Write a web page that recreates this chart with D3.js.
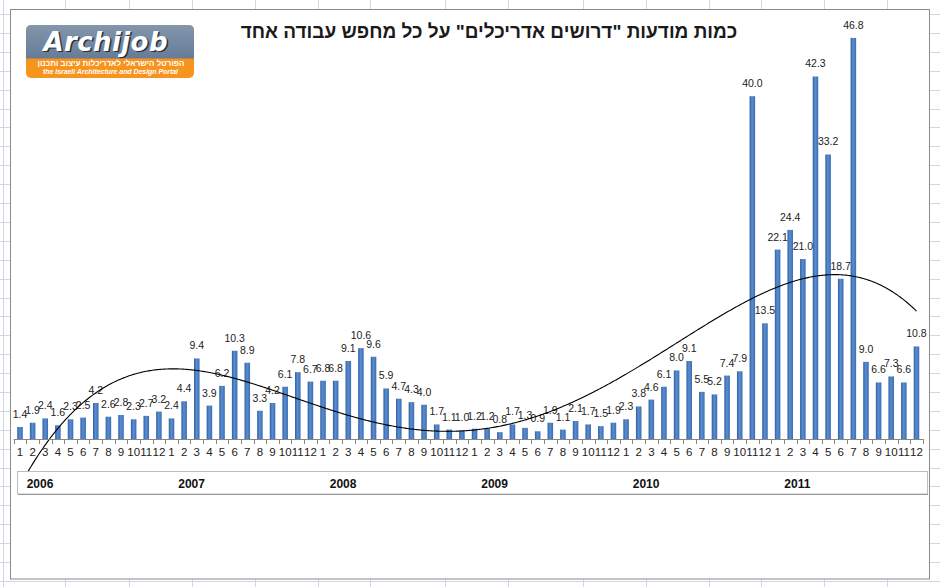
<!DOCTYPE html>
<html><head><meta charset="utf-8">
<script src="https://cdn.jsdelivr.net/npm/d3@7"></script>
<style>
html,body{margin:0;padding:0;background:#fff;}
svg{display:block;font-family:"Liberation Sans",Arial,sans-serif;}
</style></head>
<body><svg id="c" width="940" height="587"></svg>
<script>
// ---- data ----
const years = ["2006","2007","2008","2009","2010","2011"];
const monthLabels = ["1","2","3","4","5","6","7","8","9","10","11","12"];
const values2006 = [1.4,1.9,2.4,1.6,2.3,2.5,4.2,2.6,2.8,2.3,2.7,3.2];
const values2007 = [2.4,4.4,9.4,3.9,6.2,10.3,8.9,3.3,4.2,6.1,7.8,6.7];
const values2008 = [6.8,6.8,9.1,10.6,9.6,5.9,4.7,4.3,4.0,1.7,1.1,1.0];
const values2009 = [1.2,1.2,0.8,1.7,1.3,0.9,1.9,1.1,2.1,1.7,1.5,1.9];
const values2010 = [2.3,3.8,4.6,6.1,8.0,9.1,5.5,5.2,7.4,7.9,40.0,13.5];
const values2011 = [22.1,24.4,21.0,42.3,33.2,18.7,46.8,9.0,6.6,7.3,6.6,10.8];
const titleText = 'כמות מודעות "דרושים אדריכלים" על כל מחפש עבודה אחד';
const trendOrder = 4;

const seriesByYear = [values2006,values2007,values2008,values2009,values2010,values2011];
const data = [];
seriesByYear.forEach((arr,yi)=>arr.forEach((v,mi)=>data.push({i:data.length,year:years[yi],month:monthLabels[mi],value:v})));

const svg = d3.select("#c");
const W=940,H=587;

// spreadsheet grid background
const colLines=[3,65,129,192,255,318,370,445,508,583,646,709,761,824,887];
const g0=svg.append("g");
g0.selectAll("line.r").data(d3.range(14,H,18.9)).join("line")
  .attr("x1",0).attr("x2",W).attr("y1",d=>Math.round(d)+0.5).attr("y2",d=>Math.round(d)+0.5)
  .attr("stroke","#d0d7e5");
g0.selectAll("line.c").data(colLines).join("line")
  .attr("y1",0).attr("y2",H).attr("x1",d=>d+0.5).attr("x2",d=>d+0.5)
  .attr("stroke","#d0d7e5");

// chart area
svg.append("rect").attr("x",10.5).attr("y",9.5).attr("width",919).attr("height",569.5)
  .attr("fill","#fff").attr("stroke","#8a8a8a");

// defs
const defs=svg.append("defs");
const grad=defs.append("linearGradient").attr("id","bar").attr("x1","0").attr("x2","1").attr("y1","0").attr("y2","0");
grad.append("stop").attr("offset","0%").attr("stop-color","#2f5f9f");
grad.append("stop").attr("offset","45%").attr("stop-color","#5a8ed2");
grad.append("stop").attr("offset","100%").attr("stop-color","#3b6db0");
const lg=defs.append("linearGradient").attr("id","logo").attr("x1","0").attr("x2","0").attr("y1","0").attr("y2","1");
lg.append("stop").attr("offset","0%").attr("stop-color","#8296ad");
lg.append("stop").attr("offset","100%").attr("stop-color","#667c96");
defs.append("clipPath").attr("id","plotclip").append("rect").attr("x",10).attr("y",9).attr("width",920).attr("height",462);

// scales
const x = d3.scaleBand().domain(d3.range(data.length)).range([13.7,922.8]).padding(0);
const y = d3.scaleLinear().domain([0,50]).range([439,10.5]);
const bw = x.bandwidth()*0.44;
const cx = i => x(i)+x.bandwidth()/2;

// bars
svg.append("g").selectAll("rect").data(data).join("rect")
  .attr("x",d=>cx(d.i)-bw/2).attr("width",bw)
  .attr("y",d=>y(d.value)).attr("height",d=>y(0)-y(d.value))
  .attr("fill","url(#bar)");

// value labels
svg.append("g").selectAll("text").data(data).join("text")
  .attr("x",d=>cx(d.i)).attr("y",d=>y(d.value)-9)
  .attr("text-anchor","middle").attr("font-size",10.5).attr("fill","#222")
  .text(d=>d.value.toFixed(1));

// polynomial trendline (least squares, computed from the data)
function polyfit(xs,ys,order){
  const n=order+1;
  const A=Array.from({length:n},()=>new Array(n+1).fill(0));
  for(let k=0;k<xs.length;k++){
    const p=[];for(let j=0;j<2*n;j++)p.push(Math.pow(xs[k],j));
    for(let r=0;r<n;r++){for(let c=0;c<n;c++)A[r][c]+=p[r+c];A[r][n]+=p[r]*ys[k];}
  }
  for(let c=0;c<n;c++){
    let piv=c;for(let r=c+1;r<n;r++)if(Math.abs(A[r][c])>Math.abs(A[piv][c]))piv=r;
    [A[c],A[piv]]=[A[piv],A[c]];
    for(let r=0;r<n;r++){if(r===c)continue;const f=A[r][c]/A[c][c];for(let k=c;k<=n;k++)A[r][k]-=f*A[c][k];}
  }
  return A.map((row,i)=>row[n]/row[i]);
}
const N=data.length;
const ts=data.map(d=>(d.i+1)/N);
const coef=polyfit(ts,data.map(d=>d.value),trendOrder);
const pv=t=>coef.reduce((s,c,j)=>s+c*Math.pow(t,j),0);
const xLin=d3.scaleLinear().domain([1,N]).range([cx(0),cx(N-1)]);
const pts=d3.range(1,N+0.001,0.1).map(m=>[xLin(m),y(pv(m/N))]);
svg.append("path").attr("clip-path","url(#plotclip)")
  .attr("d",d3.line().curve(d3.curveLinear)(pts))
  .attr("fill","none").attr("stroke","#000").attr("stroke-width",1.1);

// category axis
const ax=svg.append("g");
ax.append("line").attr("x1",x.range()[0]).attr("x2",x.range()[1]).attr("y1",439.5).attr("y2",439.5).attr("stroke","#868686");
ax.selectAll("line.t").data(d3.range(N+1)).join("line")
  .attr("x1",d=>Math.round(x.range()[0]+d*x.step())+0.5).attr("x2",d=>Math.round(x.range()[0]+d*x.step())+0.5)
  .attr("y1",439).attr("y2",444).attr("stroke","#868686");
ax.selectAll("text").data(data).join("text")
  .attr("x",d=>cx(d.i)).attr("y",455.5).attr("text-anchor","middle")
  .attr("font-size",11.5).attr("fill","#222").text(d=>d.month);

// year box
svg.append("rect").attr("x",17.5).attr("y",471.5).attr("width",910).attr("height",22.5)
  .attr("fill","#fff").attr("stroke","#bdbdbd");
svg.append("line").attr("x1",18).attr("x2",928).attr("y1",494.5).attr("y2",494.5).attr("stroke","#9a9a9a");
svg.selectAll("text.yr").data(years).join("text").attr("class","yr")
  .attr("x",(d,i)=>x(i*12)+13).attr("y",488).attr("font-size",12).attr("font-weight","bold").attr("fill","#111")
  .text(d=>d);

// title
svg.append("text").attr("x",489).attr("y",38).attr("text-anchor","middle")
  .attr("direction","rtl").attr("font-size",19).attr("font-weight","bold").attr("fill","#1a1a1a")
  .text(titleText);

// logo
const lgG=svg.append("g");
lgG.append("rect").attr("x",26).attr("y",25).attr("width",168).attr("height",53).attr("rx",5).attr("fill","#f7941d");
lgG.append("path").attr("d","M26,58.5 V30 a5,5 0 0 1 5,-5 H189 a5,5 0 0 1 5,5 V58.5 Z").attr("fill","url(#logo)");
lgG.append("text").attr("x",45).attr("y",52).attr("font-family","'DejaVu Sans',sans-serif").attr("font-size",26)
  .attr("font-weight","bold").attr("font-style","italic").attr("fill","#2a2f36").attr("textLength",124).text("Archijob");
lgG.append("text").attr("x",43.5).attr("y",50.5).attr("font-family","'DejaVu Sans',sans-serif").attr("font-size",26)
  .attr("font-weight","bold").attr("font-style","italic").attr("fill","#fff").attr("textLength",124).text("Archijob");
lgG.append("text").attr("x",111).attr("y",66).attr("text-anchor","middle").attr("direction","rtl")
  .attr("font-size",8).attr("font-weight","bold").attr("fill","#fff").text("הפורטל הישראלי לאדריכלות עיצוב ותכנון");
lgG.append("text").attr("x",43).attr("y",74).attr("font-size",7).attr("font-weight","bold").attr("font-style","italic")
  .attr("fill","#fff").attr("textLength",135).text("the Israeli Architecture and Design Portal");
</script></body></html>
